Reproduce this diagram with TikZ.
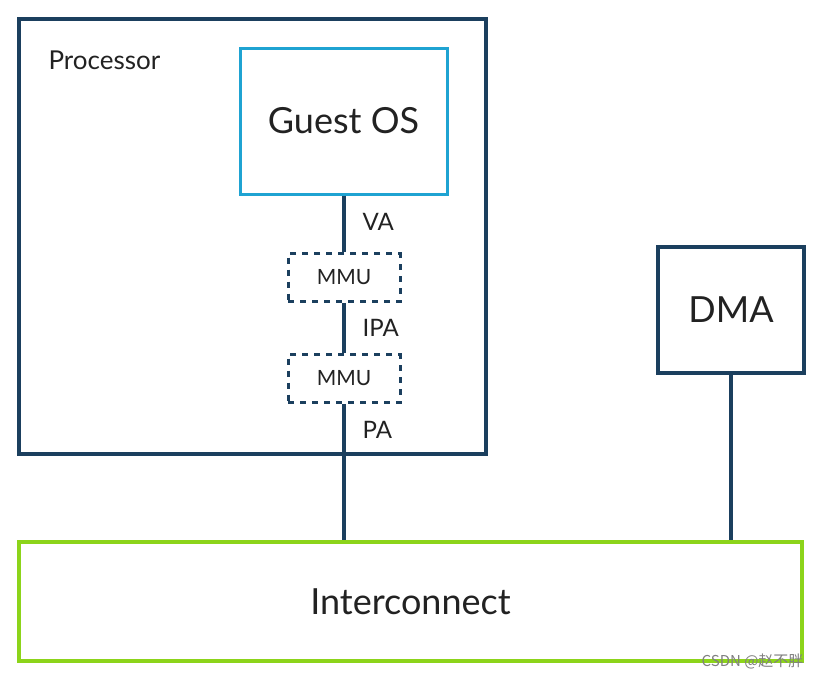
\documentclass[tikz,border=0pt]{standalone}
\usepackage{fontspec}
\setmainfont{Lato}
\newfontfamily\cjk{Noto Sans CJK SC}
\definecolor{dkblue}{HTML}{1B3F5E}
\definecolor{ltblue}{HTML}{1FA3D2}
\definecolor{lime}{HTML}{8CD41A}
\definecolor{txt}{HTML}{222222}
\begin{document}
\begin{tikzpicture}[x=1pt,y=-1pt,
  box/.style={draw=dkblue,line width=3.5pt,inner sep=0pt},
  mmubox/.style={draw=dkblue,line width=3pt,dash pattern=on 6pt off 6pt,inner sep=0pt,minimum width=112pt,minimum height=48pt,font=\fontsize{21}{23}\selectfont,text=txt},
  conn/.style={draw=dkblue,line width=3.5pt},
  lbl/.style={font=\fontsize{24}{26}\selectfont,text=txt},
  big/.style={font=\fontsize{36}{40}\selectfont,text=txt}]
\useasboundingbox (0,0) rectangle (820,678);
\fill[white] (0,0) rectangle (820,678);
\node[box,minimum width=467pt,minimum height=435pt] (proc) at (252.5,236.5) {};
\node[anchor=west,font=\fontsize{26}{28}\selectfont,text=txt] (proclbl) at (45,60) {Processor};
\node[draw=ltblue,line width=3pt,minimum width=207pt,minimum height=146pt,big] (guest) at (343.5,121) {Guest OS};
\node[mmubox] (mmu1) at (344,277.5) {MMU};
\node[mmubox] (mmu2) at (344,378.5) {MMU};
\node[box,minimum width=146pt,minimum height=126pt,big] (dma) at (731,310) {DMA};
\node[draw=lime,line width=3.5pt,minimum width=783pt,minimum height=119pt,big] (ic) at (410.5,601.5) {Interconnect};
\draw[conn] (guest.south -| mmu1.north) -- (mmu1.north);
\draw[conn] (mmu1.south) -- (mmu2.north);
\draw[conn] (mmu2.south) -- (mmu2.south |- ic.north);
\draw[conn] (dma.south) -- (dma.south |- ic.north);
\node[lbl,anchor=west] (va) at (359,222) {VA};
\node[lbl,anchor=west] (ipa) at (359,328) {IPA};
\node[lbl,anchor=west] (pa) at (359,430) {PA};
\node[anchor=east,text=gray,font=\cjk\fontsize{15}{17}\selectfont] (wm) at (807,661) {CSDN @赵不胖};
\end{tikzpicture}
\end{document}
